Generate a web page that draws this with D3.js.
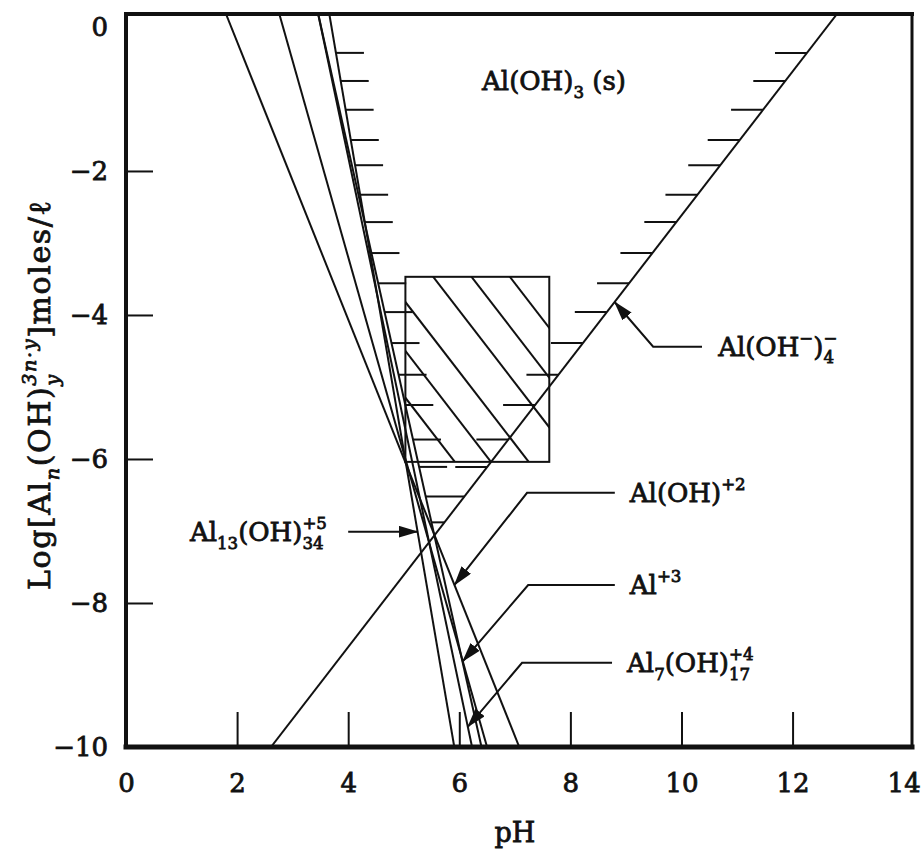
<!DOCTYPE html>
<html>
<head>
<meta charset="utf-8">
<script src="https://cdn.jsdelivr.net/npm/d3@7"></script>
<style>
  body { margin: 0; background: #fff; }
  text { font-family: "DejaVu Serif", "Liberation Serif", serif; fill: #111; stroke: #111; stroke-width: 0.8px; }
</style>
</head>
<body>
<svg id="chart"></svg>
<script>
'use strict';

// solubility lines, each as two [pH, log conc] points
var alOH2 = [[1.80, 0.18], [7.08, -10]];
var al3 = [[2.76, 0.18], [6.50, -10]];
var al7 = [[3.46, 0.18], [6.23, -10]];
var alExtra = [[3.46, 0.18], [6.40, -10]];
var al13 = [[3.66, 0.18], [5.91, -10]];
var alOH4 = [[2.61, -10], [12.80, 0.18]];

var descLines = [alOH2, al3, al7, alExtra, al13];

// log levels of the little hatch marks on the Al(OH)3(s) side
var hatchLevels = [-0.36, -0.75, -1.15, -1.57, -1.92, -2.33, -2.71, -3.14, -3.56,
  -3.96, -4.39, -4.83, -5.25, -5.73, -6.11, -6.52, -6.88];

// sweep floc box, and pH + log along each diagonal inside it
var boxPH = [5.03, 7.62];
var boxLog = [-6.04, -3.47];
var boxDiagonals = [-0.12, 0.53, 1.21, 2.06, 2.75, 3.44];

var xTicks = [0, 2, 4, 6, 8, 10, 12, 14];
var yTicks = [0, -2, -4, -6, -8, -10];

var width = 921;
var height = 850;

var svg = d3.select('#chart')
  .attr('width', width)
  .attr('height', height);

var x = d3.scaleLinear().domain([0, 14.15]).range([126, 912]);
var y = d3.scaleLinear().domain([-10, 0.18]).range([747, 14]);

function lineX(pts, v) {
  var t = (v - pts[0][1]) / (pts[1][1] - pts[0][1]);
  return pts[0][0] + t * (pts[1][0] - pts[0][0]);
}

// text with sub/superscripts; parts like {t:'Al'}, {sub:'13', sup:'+5'}
function richText(parent, px, py, parts, size, spacing) {
  var g = parent.append('g').attr('transform', 'translate(' + px + ',' + py + ')');
  var cx = 0;
  parts.forEach(function(p) {
    var pieces = [];
    if (p.t != null) pieces.push({s: p.t, fs: size, dy: 0, it: p.it});
    if (p.sub != null) pieces.push({s: p.sub, fs: size * 0.64, dy: size * 0.3, it: p.subIt});
    if (p.sup != null) pieces.push({s: p.sup, fs: size * 0.64, dy: -size * 0.46, it: p.supIt});
    var w = 0;
    pieces.forEach(function(q) {
      var t = g.append('text')
        .attr('x', cx)
        .attr('y', q.dy)
        .attr('xml:space', 'preserve')
        .style('font-size', q.fs + 'px')
        .style('font-style', q.it ? 'italic' : 'normal')
        .style('letter-spacing', (spacing || 0) + 'px')
        .text(q.s);
      w = Math.max(w, t.node().getComputedTextLength());
    });
    cx += w;
  });
  return g;
}

var defs = svg.append('defs');

defs.append('clipPath').attr('id', 'plot-clip')
  .append('rect')
  .attr('x', x(0)).attr('y', y(0.18))
  .attr('width', x(14.15) - x(0)).attr('height', y(-10) - y(0.18));

defs.append('clipPath').attr('id', 'box-clip')
  .append('rect')
  .attr('x', x(boxPH[0])).attr('y', y(boxLog[1]))
  .attr('width', x(boxPH[1]) - x(boxPH[0])).attr('height', y(boxLog[0]) - y(boxLog[1]));

defs.append('marker')
  .attr('id', 'head')
  .attr('markerUnits', 'userSpaceOnUse')
  .attr('viewBox', '0 0 20 12')
  .attr('refX', 19).attr('refY', 6)
  .attr('markerWidth', 20).attr('markerHeight', 12)
  .attr('orient', 'auto')
  .append('path')
  .attr('d', 'M0,0 L20,6 L0,12 z')
  .attr('fill', '#111');

var plot = svg.append('g').attr('clip-path', 'url(#plot-clip)');

var line = d3.line()
  .x(function(d) { return x(d[0]); })
  .y(function(d) { return y(d[1]); });

plot.selectAll('path.species')
  .data(descLines.concat([alOH4]))
  .enter().append('path')
  .attr('class', 'species')
  .attr('d', line)
  .attr('fill', 'none')
  .attr('stroke', '#111')
  .attr('stroke-width', 2);

// hatch marks: run right of the falling lines and left of the rising one
var hatchSegs = [];
hatchLevels.forEach(function(v) {
  var xl = x(d3.max(descLines, function(l) { return lineX(l, v); }));
  var xr = x(lineX(alOH4, v));
  if (xr - xl <= 60) {
    hatchSegs.push([xl, xr, v]);
  } else {
    hatchSegs.push([xl, xl + 28, v]);
    hatchSegs.push([xr - 32, xr, v]);
  }
});

plot.selectAll('line.hatch')
  .data(hatchSegs)
  .enter().append('line')
  .attr('class', 'hatch')
  .attr('x1', function(d) { return d[0]; })
  .attr('x2', function(d) { return d[1]; })
  .attr('y1', function(d) { return y(d[2]); })
  .attr('y2', function(d) { return y(d[2]); })
  .attr('stroke', '#111')
  .attr('stroke-width', 2);

// sweep box
svg.append('g').attr('clip-path', 'url(#box-clip)')
  .selectAll('path')
  .data(boxDiagonals)
  .enter().append('path')
  .attr('d', function(c) {
    return line([[boxPH[0] - 2, c - boxPH[0] + 2], [boxPH[1] + 2, c - boxPH[1] - 2]]);
  })
  .attr('fill', 'none')
  .attr('stroke', '#111')
  .attr('stroke-width', 2);

svg.append('rect')
  .attr('x', x(boxPH[0]))
  .attr('y', y(boxLog[1]))
  .attr('width', x(boxPH[1]) - x(boxPH[0]))
  .attr('height', y(boxLog[0]) - y(boxLog[1]))
  .attr('fill', 'none')
  .attr('stroke', '#111')
  .attr('stroke-width', 2);

// axes: inward ticks, no domain path
var xAxis = svg.append('g')
  .attr('transform', 'translate(0,' + y(-10) + ')')
  .call(d3.axisBottom(x).tickValues(xTicks).tickSizeInner(-35).tickSizeOuter(0).tickPadding(27));
var yAxis = svg.append('g')
  .attr('transform', 'translate(' + x(0) + ',0)')
  .call(d3.axisLeft(y).tickValues(yTicks).tickSizeInner(-27).tickSizeOuter(0).tickPadding(18)
    .tickFormat(function(d) { return d === 0 ? '0' : '\u2212' + Math.abs(d); }));

[xAxis, yAxis].forEach(function(a) {
  a.select('.domain').remove();
  a.selectAll('.tick line').attr('stroke', '#111').attr('stroke-width', 2);
  a.selectAll('.tick text')
    .attr('fill', '#111')
    .style('font-family', '"DejaVu Serif", serif')
    .style('font-size', '26px');
});
xAxis.selectAll('.tick').filter(function(d) { return d === 0 || d === 14; }).select('line').remove();
yAxis.selectAll('.tick').filter(function(d) { return d === 0 || d === -10; }).select('line').remove();

// frame
var fx0 = x(0), fx1 = x(14.15), fy0 = y(0.18), fy1 = y(-10);
[[fx0, fy0, fx1, fy0, 4], [fx0, fy0, fx0, fy1, 4], [fx0, fy1, fx1, fy1, 5], [fx1, fy0, fx1, fy1, 3]]
  .forEach(function(s) {
    svg.append('line')
      .attr('x1', s[0]).attr('y1', s[1]).attr('x2', s[2]).attr('y2', s[3])
      .attr('stroke', '#111').attr('stroke-width', s[4]).attr('stroke-linecap', 'square');
  });

// axis titles
svg.append('text')
  .attr('x', x(7)).attr('y', 842)
  .attr('text-anchor', 'middle')
  .style('font-size', '27px')
  .text('pH');

var yTitle = svg.append('g').attr('transform', 'translate(50,590) rotate(-90)');
richText(yTitle, 0, 0, [
  {t: 'Log[Al'}, {sub: 'n', subIt: true}, {t: '(OH)'},
  {sub: 'y', subIt: true, sup: '3n\u00b7y', supIt: true}, {t: ']moles/\u2113'}
], 30, 1.6);

// callouts
var callouts = [
  {tip: [alOH4, -3.82], path: [[9.49, -4.44], [10.37, -4.44]], at: [10.66, -4.44],
    parts: [{t: 'Al(OH'}, {sup: '\u2212'}, {t: ')'}, {sub: '4', sup: '\u2212'}]},
  {tip: [alOH2, -7.75], path: [[7.22, -6.47], [8.80, -6.47]], at: [9.07, -6.47],
    parts: [{t: 'Al(OH)'}, {sup: '+2'}]},
  {tip: [al3, -8.81], path: [[7.24, -7.75], [8.80, -7.75]], at: [9.07, -7.75],
    parts: [{t: 'Al'}, {sup: '+3'}]},
  {tip: [al7, -9.72], path: [[7.13, -8.83], [8.75, -8.83]], at: [9.02, -8.83],
    parts: [{t: 'Al'}, {sub: '7'}, {t: '(OH)'}, {sub: '17', sup: '+4'}]},
  {tip: [al13, -7.01], path: [[4.0, -7.01]], at: [1.15, -7.01],
    parts: [{t: 'Al'}, {sub: '13'}, {t: '(OH)'}, {sub: '34', sup: '+5'}]}
];

callouts.forEach(function(c) {
  var tip = [lineX(c.tip[0], c.tip[1]), c.tip[1]];
  var pts = c.path.slice().reverse().concat([tip]);
  svg.append('path')
    .attr('d', line(pts))
    .attr('fill', 'none')
    .attr('stroke', '#111')
    .attr('stroke-width', 2)
    .attr('marker-end', 'url(#head)');
  richText(svg, x(c.at[0]), y(c.at[1]) + 9, c.parts, 26);
});

richText(svg, x(6.41), 90, [{t: 'Al(OH)'}, {sub: '3'}, {t: ' (s)'}], 26);
</script>
</body>
</html>
